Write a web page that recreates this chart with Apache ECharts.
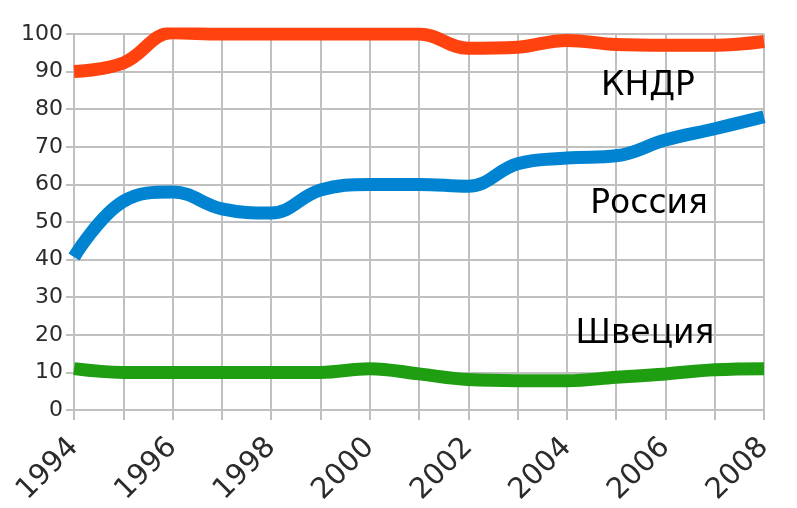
<!DOCTYPE html>
<html>
<head>
<meta charset="utf-8">
<script src="https://cdn.jsdelivr.net/npm/echarts@6/dist/echarts.min.js"></script>
<style>
  html, body { margin: 0; padding: 0; background: #fff; }
  #chart { width: 797px; height: 508px; }
</style>
</head>
<body>
<div id="chart"></div>
<script>
var years = ['1994', '1995', '1996', '1997', '1998', '1999', '2000', '2001',
             '2002', '2003', '2004', '2005', '2006', '2007', '2008'];
var kndr   = [90, 92.3, 100.3, 100, 100, 100, 100, 100, 96.2, 96.5, 98.3, 97.2, 97, 97, 98];
var russia = [40.7, 55.5, 58, 53.5, 52.4, 58.5, 60, 60, 59.5, 65.5, 67, 67.6, 71.8, 74.8, 78];
var sweden = [11, 10, 10, 10, 10, 10, 11, 9.6, 8.1, 7.8, 7.8, 8.7, 9.6, 10.7, 11];
var yTicks = { min: 0, max: 100, interval: 10 };

var dom = document.getElementById('chart');
var myChart = echarts.init(dom);

function lineSeries(name, data, color) {
    return {
        name: name,
        type: 'line',
        data: data,
        smooth: 0.4,
        showSymbol: false,
        lineStyle: { width: 13, color: color, cap: 'butt' },
        itemStyle: { color: color },
        z: 3
    };
}

var gray = '#c0c0c0';
var option = {
    animation: false,
    backgroundColor: '#fff',
    grid: { left: 74, right: 33, top: 34, bottom: 98 },
    xAxis: {
        type: 'category',
        data: years,
        boundaryGap: false,
        axisLine: { show: true, lineStyle: { color: gray, width: 2 } },
        axisTick: { show: true, interval: 0, length: 10, lineStyle: { color: gray, width: 2 } },
        splitLine: { show: true, interval: 0, lineStyle: { color: gray, width: 2 } },
        axisLabel: {
            interval: 1,
            rotate: 45,
            margin: 33,
            color: '#2b2b2b',
            fontSize: 29,
            fontFamily: 'DejaVu Sans'
        }
    },
    yAxis: {
        type: 'value',
        min: yTicks.min,
        max: yTicks.max,
        interval: yTicks.interval,
        axisLine: { show: false },
        axisTick: { show: true, length: 8, lineStyle: { color: gray, width: 2 } },
        splitLine: { show: true, lineStyle: { color: gray, width: 2 } },
        axisLabel: {
            margin: 11,
            color: '#2b2b2b',
            fontSize: 22,
            fontFamily: 'DejaVu Sans'
        }
    },
    series: [
        lineSeries('Швеция', sweden, '#1f9e12'),
        lineSeries('Россия', russia, '#0084d1'),
        lineSeries('КНДР', kndr, '#ff420e')
    ],
    graphic: [
        { type: 'text', x: 648, y: 86, z: 10,
          style: { text: 'КНДР', fill: '#000', fontSize: 33, fontFamily: 'DejaVu Sans', align: 'center', verticalAlign: 'middle' } },
        { type: 'text', x: 649, y: 204, z: 10,
          style: { text: 'Россия', fill: '#000', fontSize: 33, fontFamily: 'DejaVu Sans', align: 'center', verticalAlign: 'middle' } },
        { type: 'text', x: 645, y: 334, z: 10,
          style: { text: 'Швеция', fill: '#000', fontSize: 33, fontFamily: 'DejaVu Sans', align: 'center', verticalAlign: 'middle' } }
    ]
};

myChart.setOption(option);
</script>
</body>
</html>
